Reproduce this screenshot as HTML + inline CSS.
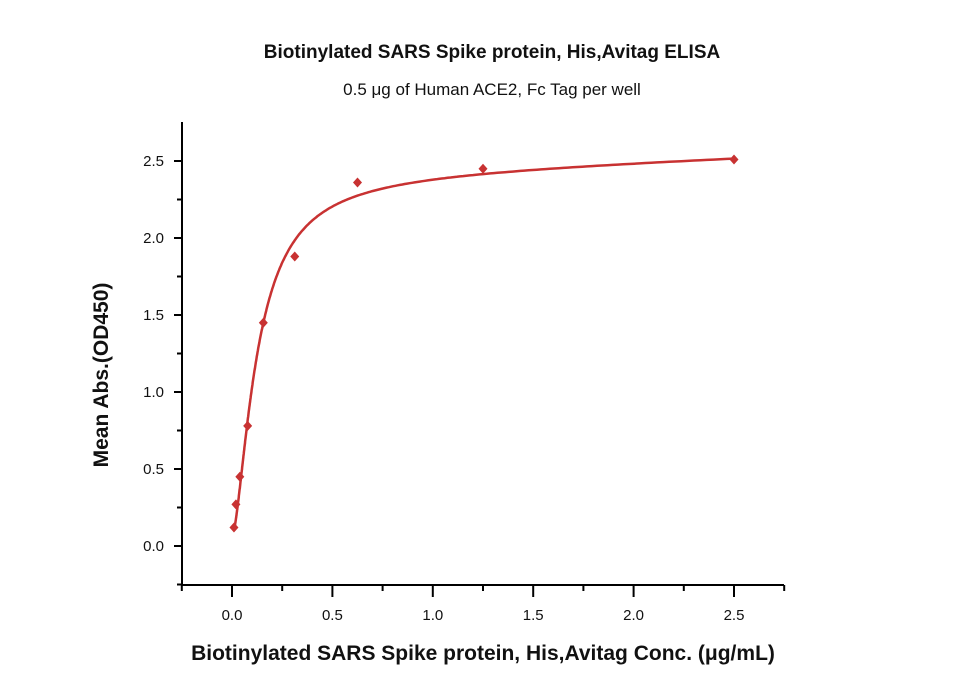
<!DOCTYPE html>
<html><head><meta charset="utf-8"><style>
body{margin:0;background:#fff;}
svg text{font-family:"Liberation Sans",sans-serif;fill:#111;}
</style></head><body>
<svg width="960" height="686" viewBox="0 0 960 686">
<text x="492" y="58" text-anchor="middle" font-size="19" font-weight="bold">Biotinylated SARS Spike protein, His,Avitag ELISA</text>
<text x="492" y="95" text-anchor="middle" font-size="17">0.5 μg of Human ACE2, Fc Tag per well</text>
<text transform="translate(108,375) rotate(-90)" text-anchor="middle" font-size="21" font-weight="bold">Mean Abs.(OD450)</text>
<text x="483" y="660" text-anchor="middle" font-size="21" font-weight="bold">Biotinylated SARS Spike protein, His,Avitag Conc. (μg/mL)</text>
<g id="axes"></g>
<g id="plot"></g>
</svg>
<script>
const xValues=[0.0098,0.0195,0.039,0.078,0.156,0.3125,0.625,1.25,2.5];
const yValues=[0.12,0.27,0.45,0.78,1.45,1.88,2.36,2.45,2.51];
const xTicks=[0,0.5,1.0,1.5,2.0,2.5];
const yTicks=[0,0.5,1.0,1.5,2.0,2.5];
const xTickLabels=["0.0","0.5","1.0","1.5","2.0","2.5"];
const yTickLabels=["0.0","0.5","1.0","1.5","2.0","2.5"];
const fitParams=[0.06,2.35,0.125,1.6,0.05];
const NS="http://www.w3.org/2000/svg";
const X=v=>232+v*200.8, Y=v=>546-v*154;
const axes=document.getElementById('axes'), plot=document.getElementById('plot');
function mk(tag,attrs,parent){const e=document.createElementNS(NS,tag);for(const k in attrs)e.setAttribute(k,attrs[k]);parent.appendChild(e);return e;}
let e=mk('path',{d:'M182,122 L182,585 L784,585',fill:'none',stroke:'#000','stroke-width':2},axes);


for(let v=-0.25;v<=2.76;v+=0.25){const major=Math.abs(v*2-Math.round(v*2))<1e-6;
 e=mk('line',{x1:X(v),x2:X(v),y1:585,y2:major?597:591,stroke:'#000','stroke-width':2},axes);
 
 }
for(let v=-0.25;v<=2.51;v+=0.25){const major=Math.abs(v*2-Math.round(v*2))<1e-6;
 e=mk('line',{x1:major?174:177,x2:182,y1:Y(v),y2:Y(v),stroke:'#000','stroke-width':2},axes);
 
 }
xTicks.forEach((v,i)=>{e=mk('text',{x:X(v),y:620,'text-anchor':'middle','font-size':15},axes);e.textContent=xTickLabels[i];
 
 });
yTicks.forEach((v,i)=>{e=mk('text',{x:164,y:Y(v)+5,'text-anchor':'end','font-size':15},axes);e.textContent=yTickLabels[i];
 
 });
const [c,B,K,h,s]=fitParams;let d='';
for(let i=0;i<=400;i++){const x=0.0098*Math.pow(2.5/0.0098,i/400);const r=Math.pow(x/K,h);const y=c+s*x+B*r/(1+r);d+=(i?'L':'M')+X(x).toFixed(1)+','+Y(y).toFixed(1);}
e=mk('path',{d,fill:'none',stroke:'#c83232','stroke-width':2.5},plot);


xValues.forEach((x,i)=>{const px=X(x),py=Y(yValues[i]);
 e=mk('path',{d:`M${px},${py-5}L${px+4.5},${py}L${px},${py+5}L${px-4.5},${py}Z`,fill:'#c83232'},plot);
 
 });
</script>
</body></html>
